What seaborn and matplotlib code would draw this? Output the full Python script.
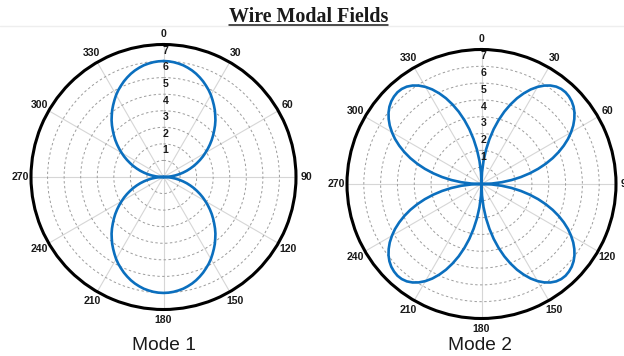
import numpy as np
import matplotlib
matplotlib.use("Agg")
import matplotlib.pyplot as plt
import seaborn as sns
from matplotlib.lines import Line2D
from matplotlib import font_manager as fm

# ---------------- data ----------------
theta_deg = [i * 2.5 for i in range(145)]      # sample angles, degrees (0 = top, clockwise)

mode1_r = [7.00, 6.99, 6.96, 6.91, 6.85, 6.76, 6.66, 6.54, 6.40, 6.25, 6.08, 5.91, 5.72, 5.51, 5.30, 5.09, 4.86, 4.64, 4.40,
           4.15, 3.91, 3.67, 3.42, 3.17, 2.92, 2.68, 2.43, 2.18, 1.94, 1.69, 1.45, 1.20, 0.96, 0.72, 0.48, 0.24, 0.00,
           0.24, 0.48, 0.72, 0.96, 1.20, 1.45, 1.69, 1.94, 2.18, 2.43, 2.68, 2.92, 3.17, 3.42, 3.67, 3.91, 4.15, 4.40,
           4.64, 4.86, 5.09, 5.30, 5.51, 5.72, 5.91, 6.08, 6.25, 6.40, 6.54, 6.66, 6.76, 6.85, 6.91, 6.96, 6.99, 7.00,
           6.99, 6.96, 6.91, 6.85, 6.76, 6.66, 6.54, 6.40, 6.25, 6.08, 5.91, 5.72, 5.51, 5.30, 5.09, 4.86, 4.64, 4.40,
           4.15, 3.91, 3.67, 3.42, 3.17, 2.92, 2.68, 2.43, 2.18, 1.94, 1.69, 1.45, 1.20, 0.96, 0.72, 0.48, 0.24, 0.00,
           0.24, 0.48, 0.72, 0.96, 1.20, 1.45, 1.69, 1.94, 2.18, 2.43, 2.68, 2.92, 3.17, 3.42, 3.67, 3.91, 4.15, 4.40,
           4.64, 4.86, 5.09, 5.30, 5.51, 5.72, 5.91, 6.08, 6.25, 6.40, 6.54, 6.66, 6.76, 6.85, 6.91, 6.96, 6.99, 7.00]

mode2_r = [0.00, 0.69, 1.38, 2.05, 2.70, 3.34, 3.94, 4.51, 5.03, 5.52, 5.95, 6.34, 6.67, 6.94, 7.15, 7.30, 7.38, 7.40, 7.36,
           7.28, 7.15, 6.97, 6.74, 6.47, 6.15, 5.80, 5.40, 4.97, 4.51, 4.01, 3.49, 2.94, 2.38, 1.80, 1.21, 0.61, 0.00,
           0.61, 1.21, 1.80, 2.38, 2.94, 3.49, 4.01, 4.51, 4.97, 5.40, 5.80, 6.15, 6.47, 6.74, 6.97, 7.15, 7.28, 7.36,
           7.40, 7.38, 7.30, 7.15, 6.94, 6.67, 6.34, 5.95, 5.52, 5.03, 4.51, 3.94, 3.34, 2.70, 2.05, 1.38, 0.69, 0.00,
           0.69, 1.38, 2.05, 2.70, 3.34, 3.94, 4.51, 5.03, 5.52, 5.95, 6.34, 6.67, 6.94, 7.15, 7.30, 7.38, 7.40, 7.36,
           7.28, 7.15, 6.97, 6.74, 6.47, 6.15, 5.80, 5.40, 4.97, 4.51, 4.01, 3.49, 2.94, 2.38, 1.80, 1.21, 0.61, 0.00,
           0.61, 1.21, 1.80, 2.38, 2.94, 3.49, 4.01, 4.51, 4.97, 5.40, 5.80, 6.15, 6.47, 6.74, 6.97, 7.15, 7.28, 7.36,
           7.40, 7.38, 7.30, 7.15, 6.94, 6.67, 6.34, 5.95, 5.52, 5.03, 4.51, 3.94, 3.34, 2.70, 2.05, 1.38, 0.69, 0.00]

angle_ticks = [0, 30, 60, 90, 120, 150, 180, 210, 240, 270, 300, 330]
angle_labels = ["0", "30", "60", "90", "120", "150", "180", "210", "240", "270", "300", "330"]
r_ticks = [1, 2, 3, 4, 5, 6, 7]
r_labels = ["1", "2", "3", "4", "5", "6", "7"]
r_max = 8
panel_titles = ["Mode 1", "Mode 2"]
title = "Wire Modal Fields"

# ---------------- style ----------------
sns.set_style("white")
plt.rcParams["font.family"] = ["Liberation Sans", "DejaVu Sans"]


def find_font(name, weight):
    for f in fm.fontManager.ttflist:
        if f.name == name and f.weight == weight and f.style == "normal" \
                and "narrow" not in f.fname.lower():
            return fm.FontProperties(fname=f.fname)
    return fm.FontProperties(family=name, weight=weight)


bold_sans = find_font("Liberation Sans", 700)
bold_serif = find_font("Liberation Serif", 700)
reg_sans = find_font("Liberation Sans", 400)

W, H = 624, 356
fig = plt.figure(figsize=(W / 100, H / 100), dpi=100)

LINE_COLOR = "#0b6fbe"
TXT = "#1a1a1a"


def px_rect(cx, cy, rad):
    return [(cx - rad) / W, (H - (cy + rad)) / H, 2 * rad / W, 2 * rad / H]


panels = [
    dict(rect=px_rect(163.5, 177.0, 132.5), data=mode1_r, cap_x=163.5),
    dict(rect=px_rect(481.5, 184.0, 134.5), data=mode2_r, cap_x=480.0),
]

for p, cap in zip(panels, panel_titles):
    ax = fig.add_axes(p["rect"], projection="polar")
    ax.set_theta_zero_location("N")
    ax.set_theta_direction(-1)
    ax.set_ylim(0, r_max)
    ax.set_yticks(r_ticks)
    ax.set_yticklabels([])
    ax.set_xticks(np.deg2rad(angle_ticks))
    ax.set_xticklabels([])
    ax.tick_params(length=0)
    ax.xaxis.grid(True, color="#d6d6d6", lw=0.8, ls="-")
    ax.yaxis.grid(True, color="#9c9c9c", lw=0.7, ls=(0, (2.5, 2.5)))
    ax.spines["polar"].set_color("black")
    ax.spines["polar"].set_linewidth(2.2)
    ax.set_facecolor("white")

    sns.lineplot(x=np.deg2rad(theta_deg), y=p["data"], ax=ax, sort=False,
                 estimator=None, color=LINE_COLOR, lw=1.9, zorder=3)
    ax.set_xlabel("")
    ax.set_ylabel("")

    for a, lab in zip(angle_ticks, angle_labels):
        ax.text(np.deg2rad(a), 8.65, lab, ha="center", va="center",
                fontproperties=bold_sans, fontsize=7.6, color=TXT, clip_on=False)
    for r, lab in zip(r_ticks, r_labels):
        ax.annotate(lab, xy=(0, r), xytext=(1.6, 7.3), textcoords="offset points",
                    ha="center", va="center", fontproperties=bold_sans, fontsize=7.6,
                    color=TXT, zorder=4)

    fig.text(p["cap_x"] / W, 1 - 350 / H, cap, ha="center", va="baseline",
             fontproperties=reg_sans, fontsize=13.8, color=TXT)

# faint separator line under the title region
fig.add_artist(Line2D([0, 1], [1 - 25.5 / H] * 2, transform=fig.transFigure,
                      color="#eeeeee", lw=1.0))

t = fig.text(308.5 / W, 1 - 22.5 / H, title, ha="center", va="baseline",
             fontproperties=bold_serif, fontsize=14.4, color=TXT)
fig.canvas.draw()
bb = t.get_window_extent()
uy = (H - 24.8) / H
fig.add_artist(Line2D([bb.x0 / W, bb.x1 / W], [uy, uy], transform=fig.transFigure,
                      color=TXT, lw=1.1))

fig.savefig("out.png", dpi=100, facecolor="white")
